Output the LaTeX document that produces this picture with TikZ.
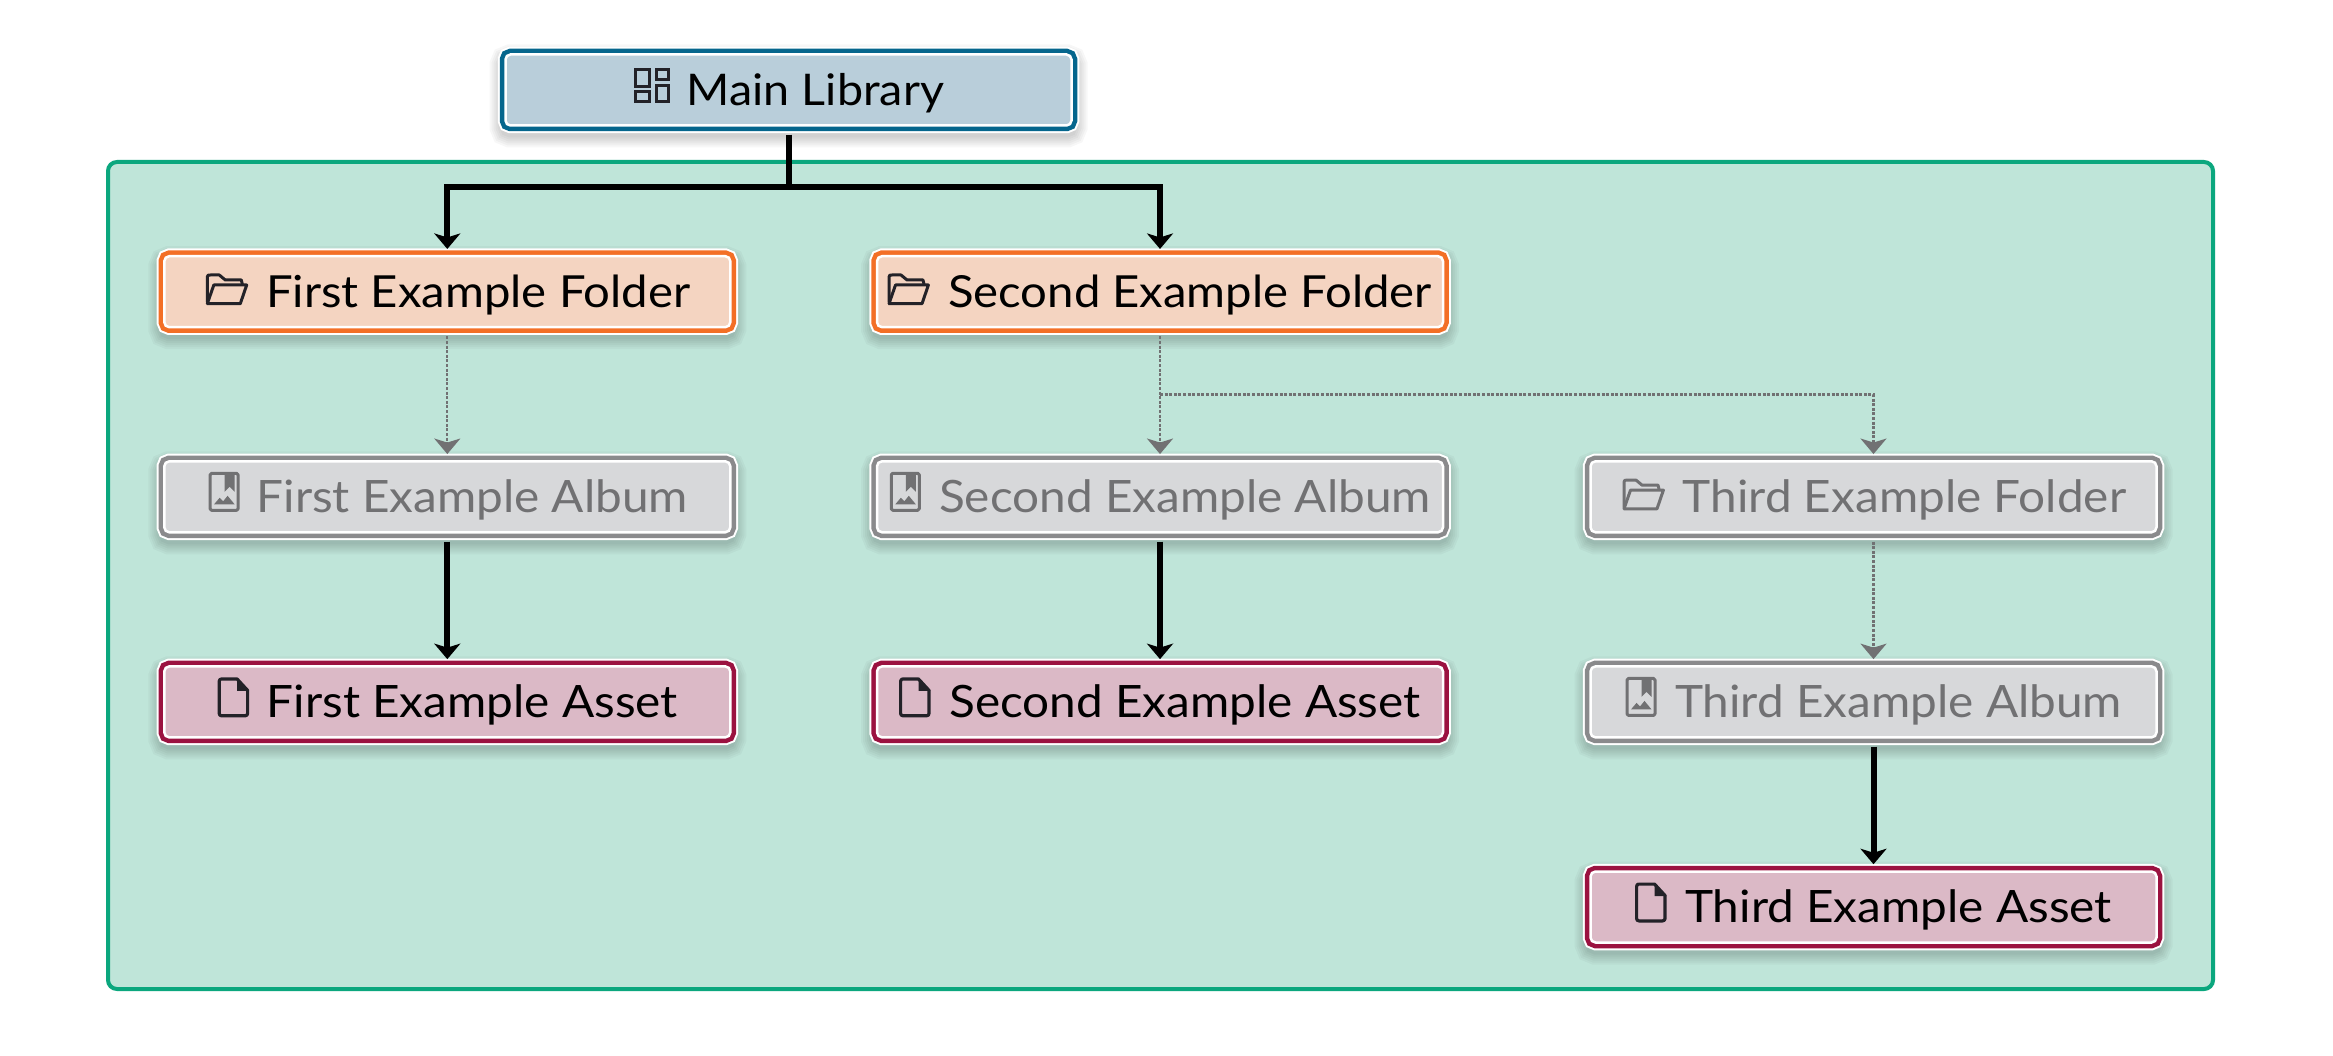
\documentclass[tikz,border=0pt]{standalone}
\usepackage{fontspec}
\setmainfont{Lato}[FakeStretch=1.07]
\usetikzlibrary{arrows.meta}
\definecolor{grpf}{HTML}{BFE5D9}\definecolor{grpd}{HTML}{0BA77E}
\definecolor{mainf}{HTML}{B9CEDA}\definecolor{maind}{HTML}{05668D}
\definecolor{foldf}{HTML}{F4D4C1}\definecolor{foldd}{HTML}{F36F26}
\definecolor{grayf}{HTML}{D7D8DA}\definecolor{grayd}{HTML}{8A8A8C}\definecolor{grayt}{HTML}{717173}
\definecolor{assetf}{HTML}{DBB9C6}\definecolor{assetd}{HTML}{9B1240}
\definecolor{icon}{HTML}{232228}
\tikzset{
 x=1pt,y=-1pt,
 shlayer/.style={preaction={draw=black,draw opacity=.03,line width=#1,transform canvas={yshift=-6pt}}},
 boxbase/.style n args={2}{rounded corners=5pt,minimum width=566pt,minimum height=71pt,inner sep=0pt,
  text height=41pt,text depth=10pt,font=\fontsize{44.6}{50}\selectfont,
  shlayer=32pt,shlayer=28pt,shlayer=24pt,shlayer=20pt,shlayer=16pt,shlayer=12pt,
  preaction={draw=white,line width=15.5pt},
  preaction={draw=#2,line width=11.5pt},
  draw=white,line width=2.5pt,fill=#1},
 mainbox/.style={boxbase={mainf}{maind},font=\fontsize{43.6}{50}\selectfont},
 foldbox/.style={boxbase={foldf}{foldd},font=\fontsize{44.2}{50}\selectfont},
 graybox/.style={boxbase={grayf}{grayd},text=grayt},
 assetbox/.style={boxbase={assetf}{assetd}},
 group/.style={draw=grpd,fill=grpf,line width=4pt,rounded corners=9pt},
 strong/.style={draw=black,line width=6pt,-{Stealth[length=15.5pt,width=26pt,inset=4pt]}},
 weak/.style={draw=grayt,line width=2.2pt,dash pattern=on 3pt off 1.6pt,-{Stealth[length=15.5pt,width=26pt,inset=4pt]}},
 ico/.style={line width=#1,line join=round,line cap=round},
}
% grid icon: box name, dx
\newcommand{\icgrid}[2]{\begin{scope}[shift={(#1.center)}]\begin{scope}[shift={(#2,-21.7)}]
 \draw[ico=3pt,draw=icon,line cap=butt,line join=miter] (1.5,1.5) rectangle (15.5,18) (1.5,23.5) rectangle (15.5,33.5) (22.5,1.5) rectangle (34.5,11) (22.5,17) rectangle (34.5,33.5);
\end{scope}\end{scope}}
% folder icon: box name, dx, colour
\newcommand{\icfold}[3]{\begin{scope}[shift={(#1.center)}]\begin{scope}[shift={(#2,-18.7)}]
 \draw[ico=3pt,draw=#3] (2,29) -- (2,4) .. controls (2,2) and (3,2) .. (5,2) -- (14,2) -- (20,7) -- (36,7) -- (37,11);
 \draw[ico=3pt,draw=#3] (2,30.7) -- (35,30.7) -- (41.4,12) -- (8.5,12) -- (2,30.7);
\end{scope}\end{scope}}
% album icon
\newcommand{\icalb}[3]{\begin{scope}[shift={(#1.center)}]\begin{scope}[shift={(#2,-25)}]
 \draw[ico=3pt,draw=#3,rounded corners=1.5pt] (1.5,1.5) rectangle (29.5,38.5);
 \fill[#3] (16,1.5) -- (26,1.5) -- (26,20) -- (21,15) -- (16,20) -- cycle;
 \fill[#3] (5.5,32.5) -- (11,26) -- (14.5,29.5) -- (19,24) -- (26,32.5) -- cycle;
\end{scope}\end{scope}}
% document icon
\newcommand{\icdoc}[3]{\begin{scope}[shift={(#1.center)}]\begin{scope}[shift={(#2,-24.5)}]
 \draw[ico=3.2pt,draw=#3] (3.5,1.6) -- (19.5,1.6) -- (30,13) -- (30,36) .. controls (30,37.5) and (29,38.4) .. (27.5,38.4) -- (4,38.4) .. controls (2.6,38.4) and (1.6,37.5) .. (1.6,36) -- (1.6,4) .. controls (1.6,2.6) and (2.6,1.6) .. (3.5,1.6);
 \fill[#3] (19.5,1.6) -- (31.5,13.5) -- (19.5,13.5) -- cycle;
\end{scope}\end{scope}}
\newcommand{\pad}[1]{\hspace*{#1pt}}
\begin{document}
\begin{tikzpicture}
\useasboundingbox (0,0) rectangle (2333,1056);
\fill[white] (0,0) rectangle (2333,1056);
\draw[group] (108,162) rectangle (2213,989);
\node[mainbox] (main) at (788.5,90) {\pad{54}Main Library};
\node[foldbox] (f1) at (447.3,291.7) {\pad{62}First Example Folder};
\node[foldbox] (f2) at (1160,291.7) {\pad{60}Second Example Folder};
\node[graybox] (a1) at (447.3,496.8) {\pad{50}First Example Album};
\node[graybox] (a2) at (1160,496.8) {\pad{50}Second Example Album};
\node[graybox] (f3) at (1873.5,496.8) {\pad{62}Third Example Folder};
\node[assetbox] (d1) at (447.3,701.9) {\pad{50}First Example Asset};
\node[assetbox] (d2) at (1160,701.9) {\pad{50}Second Example Asset};
\node[graybox] (a3) at (1873.5,701.9) {\pad{50}Third Example Album};
\node[assetbox] (d3) at (1873.5,907) {\pad{50}Third Example Asset};
\icgrid{main}{-154.8}
\icfold{f1}{-242}{icon}
\icfold{f2}{-273}{icon}
\icfold{f3}{-251.5}{grayt}
\icalb{a1}{-238.7}{grayt}
\icalb{a2}{-270.2}{grayt}
\icalb{a3}{-248}{grayt}
\icdoc{d1}{-229.7}{icon}
\icdoc{d2}{-261}{icon}
\icdoc{d3}{-238.5}{icon}
\coordinate (mj) at (788.5,187);
\coordinate (wj) at (1160,394.5);
\draw[strong,-] ([yshift=-8pt]main.south) -- (mj);
\draw[strong] (mj) -| ([yshift=6pt]f1.north);
\draw[strong] (mj) -| ([yshift=6pt]f2.north);
\draw[weak] ([yshift=-8pt]f1.south) -- ([yshift=6pt]a1.north);
\draw[weak] ([yshift=-8pt]f2.south) -- ([yshift=6pt]a2.north);
\draw[weak] (wj) -| ([yshift=6pt]f3.north);
\draw[weak] ([yshift=-8pt]f3.south) -- ([yshift=6pt]a3.north);
\draw[strong] ([yshift=-8pt]a1.south) -- ([yshift=6pt]d1.north);
\draw[strong] ([yshift=-8pt]a2.south) -- ([yshift=6pt]d2.north);
\draw[strong] ([yshift=-8pt]a3.south) -- ([yshift=6pt]d3.north);
\end{tikzpicture}
\end{document}
